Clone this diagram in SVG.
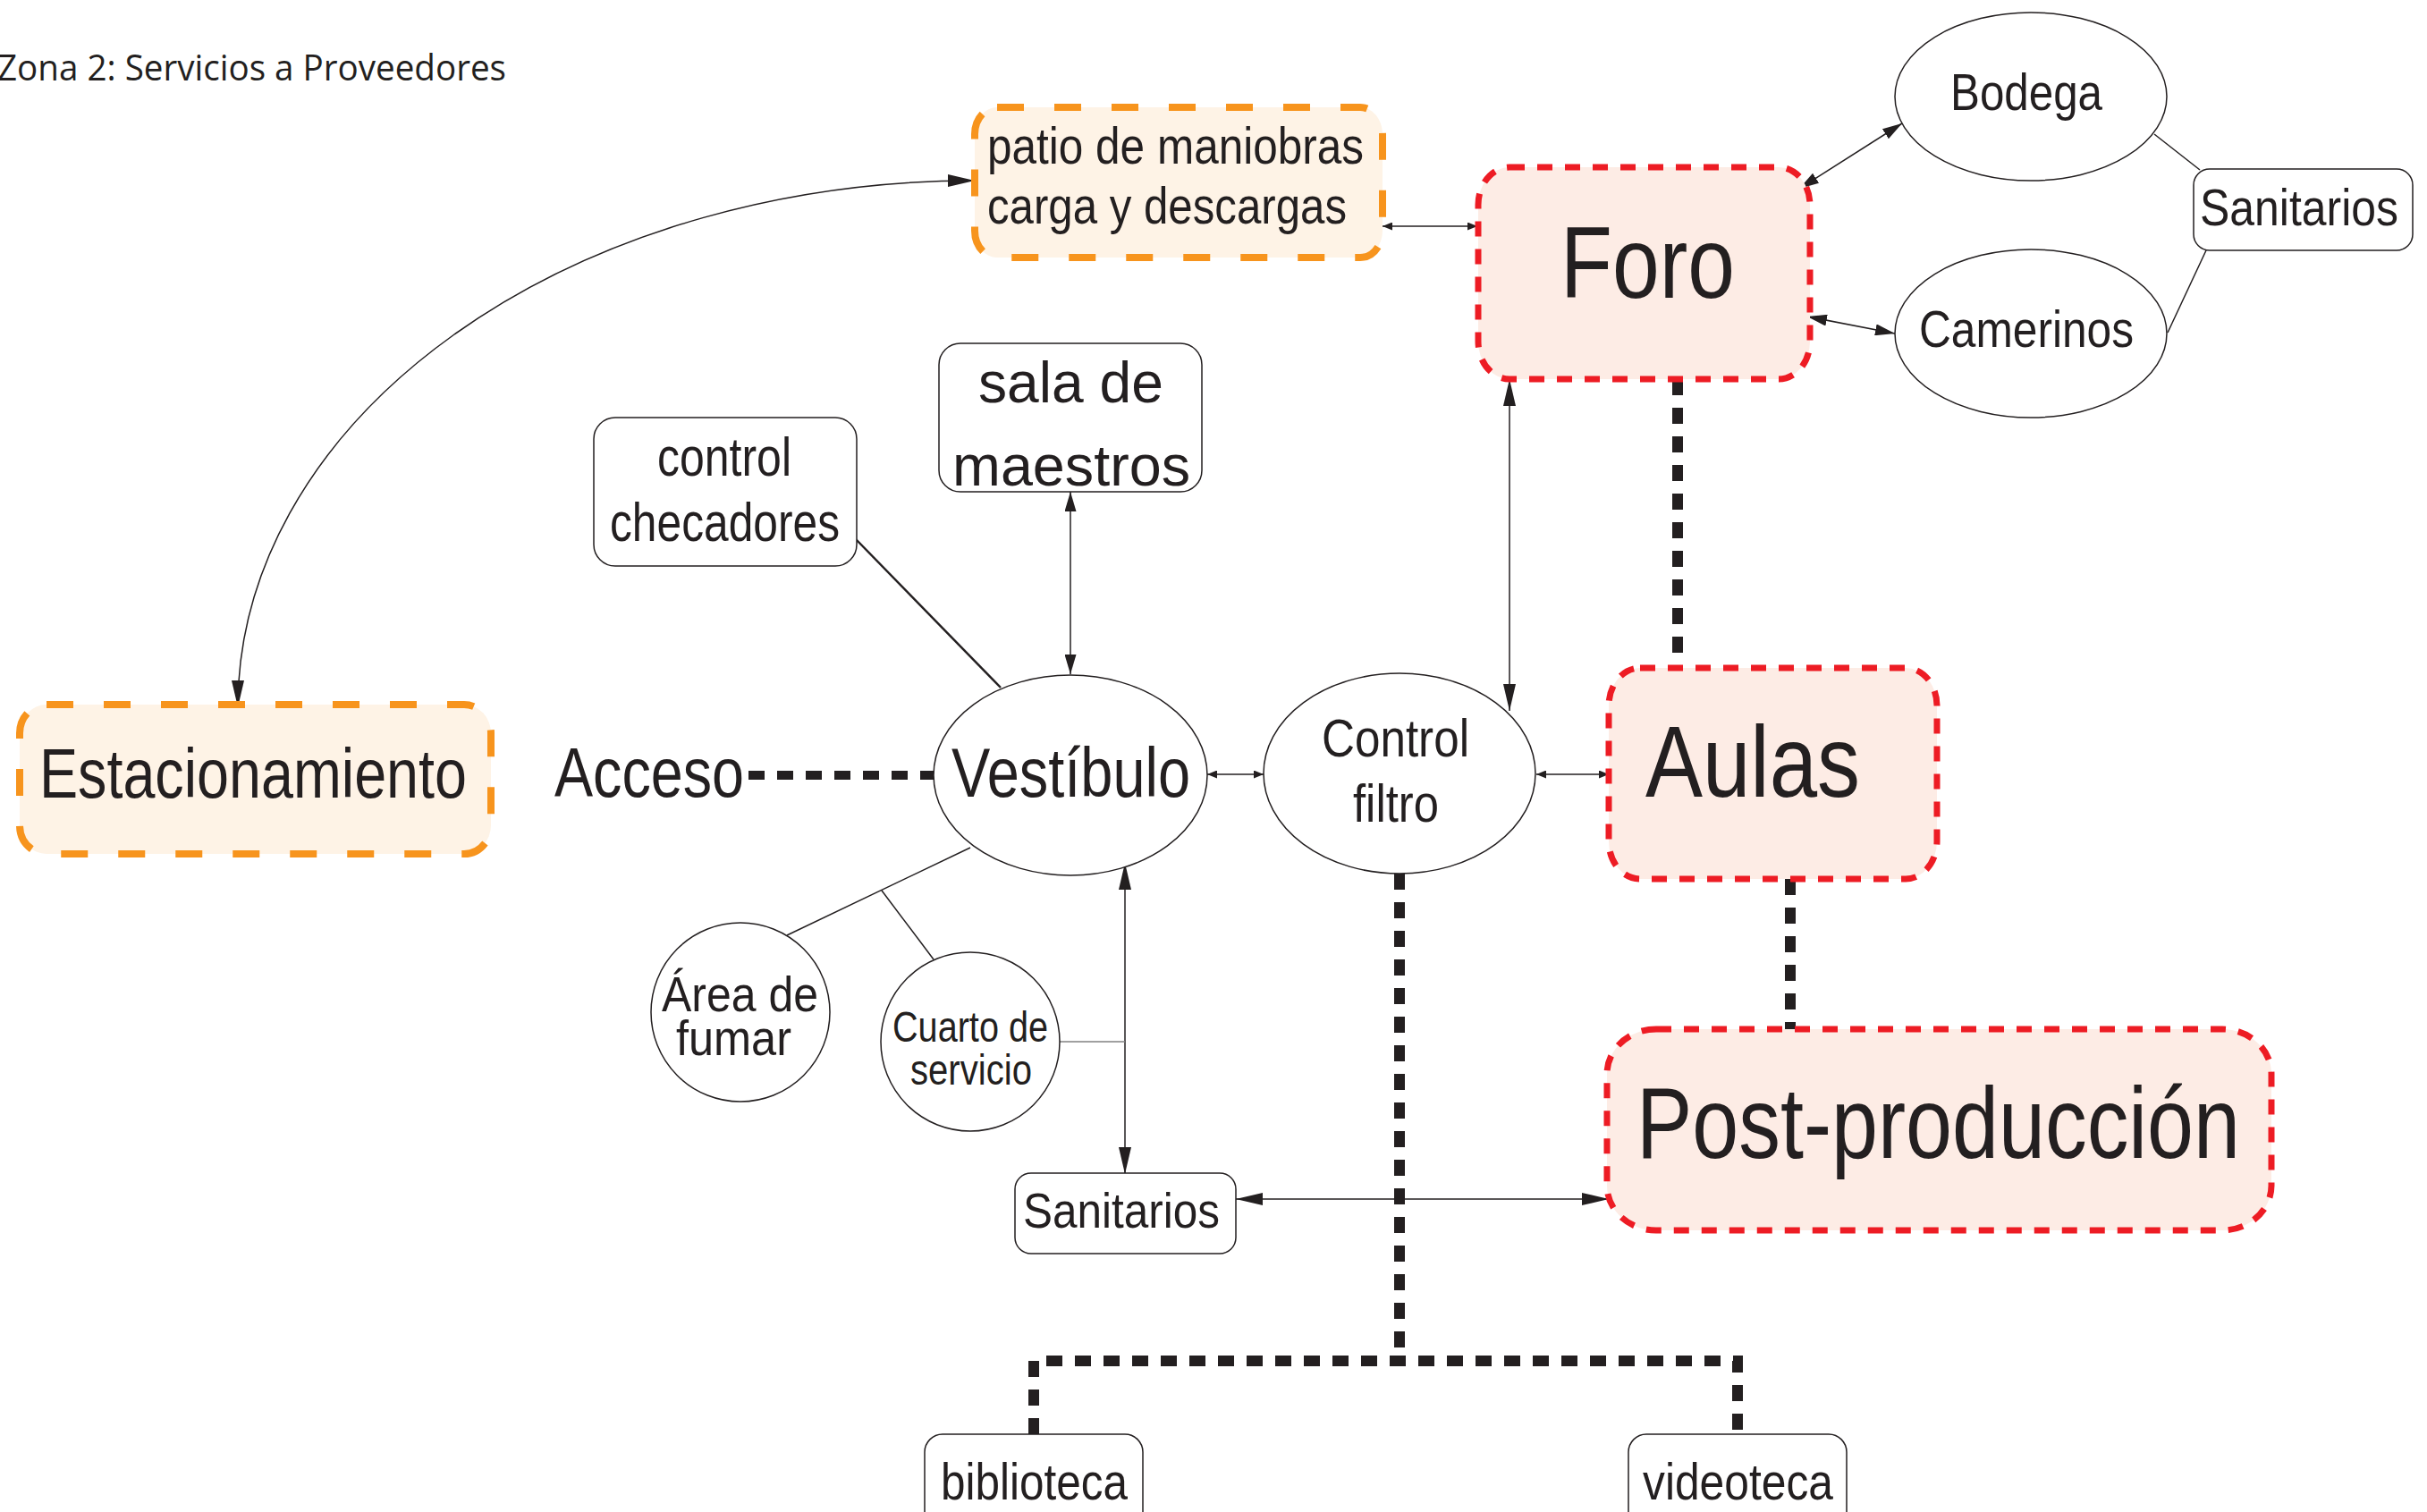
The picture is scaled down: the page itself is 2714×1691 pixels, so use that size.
<svg xmlns="http://www.w3.org/2000/svg" width="2714" height="1691" viewBox="0 0 2714 1691">
<style>
text{font-family:"Liberation Sans Narrow","Liberation Sans",Arial,sans-serif;fill:#231f20;}
.title{font-family:"Open Sans","Noto Sans",sans-serif;font-size:40px;}
.node{fill:#ffffff;stroke:#231f20;stroke-width:1.5;}
.orange{fill:#fef3e6;stroke:#f7941d;stroke-width:8;stroke-dasharray:30 34;}
.red{fill:#fdece5;stroke:#ed1c24;stroke-width:7;stroke-dasharray:17 14;}
.ln{fill:none;stroke:#231f20;stroke-width:1.5;}
.dot{fill:none;stroke:#231f20;stroke-width:12;stroke-dasharray:18 14;}
</style>
<defs>
<marker id="aL" markerUnits="userSpaceOnUse" viewBox="0 0 30 14" markerWidth="30" markerHeight="14" refX="30" refY="7" orient="auto-start-reverse"><path d="M0,0 L30,7 L0,14 z" fill="#231f20"/></marker>
<marker id="aM" markerUnits="userSpaceOnUse" viewBox="0 0 22 13" markerWidth="22" markerHeight="13" refX="22" refY="6.5" orient="auto-start-reverse"><path d="M0,0 L22,6.5 L0,13 z" fill="#231f20"/></marker>
<marker id="aS" markerUnits="userSpaceOnUse" viewBox="0 0 11 9" markerWidth="11" markerHeight="9" refX="11" refY="4.5" orient="auto-start-reverse"><path d="M0,0 L11,4.5 L0,9 z" fill="#231f20"/></marker>
</defs>
<rect width="2714" height="1691" fill="#ffffff"/>
<text class="title" x="-3" y="90" textLength="569" lengthAdjust="spacingAndGlyphs">Zona 2: Servicios a Proveedores</text>

<g id="connectors">
<path class="ln" d="M1090,202 A824,589 0 0 0 266,791" marker-start="url(#aL)" marker-end="url(#aL)"/>
<line class="ln" x1="1546" y1="253" x2="1652" y2="253" marker-start="url(#aS)" marker-end="url(#aS)"/>
<line class="ln" x1="2012" y1="211" x2="2127" y2="138" marker-start="url(#aM)" marker-end="url(#aM)"/>
<line class="ln" x1="2021" y1="354" x2="2119" y2="373" marker-start="url(#aM)" marker-end="url(#aM)"/>
<line class="ln" x1="2409" y1="150" x2="2460" y2="190"/>
<line class="ln" x1="2424" y1="372" x2="2467" y2="280"/>
<line class="ln" x1="1688" y1="424" x2="1688" y2="795" marker-start="url(#aL)" marker-end="url(#aL)"/>
<line class="dot" x1="1876" y1="424" x2="1876" y2="747"/>
<line class="dot" x1="2002" y1="983" x2="2002" y2="1151"/>
<line class="dot" x1="837" y1="867" x2="1045" y2="867" style="stroke-width:10"/>
<line class="ln" x1="1350" y1="866" x2="1413" y2="866" marker-start="url(#aS)" marker-end="url(#aS)"/>
<line class="ln" x1="1718" y1="866" x2="1799" y2="866" marker-start="url(#aS)" marker-end="url(#aS)"/>
<line class="ln" x1="1197" y1="550" x2="1197" y2="754" marker-start="url(#aM)" marker-end="url(#aM)"/>
<line class="ln" x1="957" y1="603" x2="1119" y2="769" style="stroke-width:2.5"/>
<line class="ln" x1="1085" y1="948" x2="880" y2="1046"/>
<line class="ln" x1="986" y1="996" x2="1044" y2="1073"/>
<line class="ln" x1="1258" y1="965" x2="1258" y2="1313" marker-start="url(#aL)" marker-end="url(#aL)"/>
<line class="ln" x1="1185" y1="1165" x2="1258" y2="1165" style="stroke:#808080"/>
<line class="ln" x1="1382" y1="1341" x2="1799" y2="1341" marker-start="url(#aL)" marker-end="url(#aL)"/>
<path class="dot" d="M1565,977 V1522 M1156,1604 V1522 H1943 V1604"/>
</g>

<g id="patio"><rect class="orange" x="1090" y="120" width="456" height="168" rx="25" ry="30"/>
<text x="1104" y="183" font-size="57" textLength="421" lengthAdjust="spacingAndGlyphs">patio de maniobras</text>
<text x="1104" y="250" font-size="57" textLength="402" lengthAdjust="spacingAndGlyphs">carga y descargas</text></g>

<g id="foro"><rect class="red" x="1653" y="187" width="371" height="237" rx="35" ry="42"/>
<text x="1745" y="333" font-size="113" textLength="195" lengthAdjust="spacingAndGlyphs">Foro</text></g>

<g id="bodega"><ellipse class="node" cx="2271" cy="108" rx="152" ry="94"/>
<text x="2181" y="123" font-size="57" textLength="170" lengthAdjust="spacingAndGlyphs">Bodega</text></g>

<g id="camerinos"><ellipse class="node" cx="2271" cy="373" rx="152" ry="94"/>
<text x="2146" y="388" font-size="57" textLength="240" lengthAdjust="spacingAndGlyphs">Camerinos</text></g>

<g id="sanitarios-foro"><rect class="node" x="2453" y="189" width="245" height="91" rx="18"/>
<text x="2460" y="252" font-size="58" textLength="222" lengthAdjust="spacingAndGlyphs">Sanitarios</text></g>

<g id="sala"><rect class="node" x="1050" y="384" width="294" height="166" rx="24"/>
<text x="1094" y="450" font-size="64" textLength="207" lengthAdjust="spacingAndGlyphs">sala de</text>
<text x="1065" y="543" font-size="64" textLength="266" lengthAdjust="spacingAndGlyphs">maestros</text></g>

<g id="control-checadores"><rect class="node" x="664" y="467" width="294" height="166" rx="24"/>
<text x="735" y="532" font-size="61" textLength="150" lengthAdjust="spacingAndGlyphs">control</text>
<text x="682" y="605" font-size="61" textLength="257" lengthAdjust="spacingAndGlyphs">checadores</text></g>

<g id="estacionamiento"><rect class="orange" x="22" y="788" width="527" height="167" rx="30" ry="32"/>
<text x="44" y="892" font-size="78" textLength="478" lengthAdjust="spacingAndGlyphs">Estacionamiento</text></g>

<g id="acceso"><text x="620" y="891" font-size="77" textLength="212" lengthAdjust="spacingAndGlyphs">Acceso</text></g>

<g id="vestibulo"><ellipse class="node" cx="1197" cy="867" rx="153" ry="112"/>
<text x="1064" y="891" font-size="77" textLength="267" lengthAdjust="spacingAndGlyphs">Vestíbulo</text></g>

<g id="control-filtro"><ellipse class="node" cx="1565" cy="865" rx="152" ry="112"/>
<text x="1478" y="846" font-size="60" textLength="165" lengthAdjust="spacingAndGlyphs">Control</text>
<text x="1513" y="919" font-size="60" textLength="96" lengthAdjust="spacingAndGlyphs">filtro</text></g>

<g id="aulas"><rect class="red" x="1799" y="747" width="367" height="236" rx="35" ry="42"/>
<text x="1840" y="891" font-size="114" textLength="240" lengthAdjust="spacingAndGlyphs">Aulas</text></g>

<g id="post"><rect class="red" x="1797" y="1151" width="743" height="225" rx="55" ry="50"/>
<text x="1830" y="1295" font-size="114" textLength="675" lengthAdjust="spacingAndGlyphs">Post-producción</text></g>

<g id="area-fumar"><circle class="node" cx="828" cy="1132" r="100"/>
<text x="740" y="1131" font-size="55" textLength="175" lengthAdjust="spacingAndGlyphs">Área de</text>
<text x="756" y="1180" font-size="55" textLength="129" lengthAdjust="spacingAndGlyphs">fumar</text></g>

<g id="cuarto-servicio"><circle class="node" cx="1085" cy="1165" r="100"/>
<text x="998" y="1165" font-size="49" textLength="174" lengthAdjust="spacingAndGlyphs">Cuarto de</text>
<text x="1018" y="1213" font-size="49" textLength="136" lengthAdjust="spacingAndGlyphs">servicio</text></g>

<g id="sanitarios"><rect class="node" x="1135" y="1312" width="247" height="90" rx="18"/>
<text x="1144" y="1373" font-size="56" textLength="220" lengthAdjust="spacingAndGlyphs">Sanitarios</text></g>

<g id="biblioteca"><rect class="node" x="1034" y="1604" width="244" height="130" rx="20"/>
<text x="1052" y="1677" font-size="58" textLength="209" lengthAdjust="spacingAndGlyphs">biblioteca</text></g>

<g id="videoteca"><rect class="node" x="1821" y="1604" width="244" height="130" rx="20"/>
<text x="1837" y="1677" font-size="58" textLength="213" lengthAdjust="spacingAndGlyphs">videoteca</text></g>
</svg>
